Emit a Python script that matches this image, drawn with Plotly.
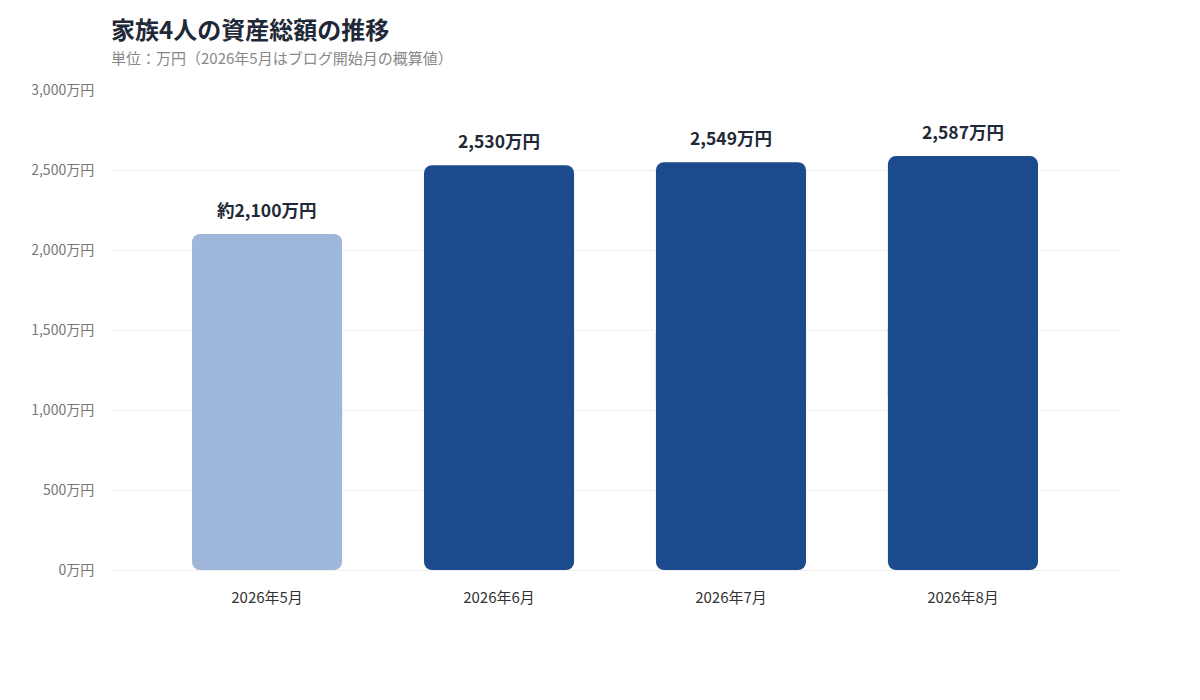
import plotly.graph_objects as go

categories = ["2026年5月", "2026年6月", "2026年7月", "2026年8月"]
values = [2100, 2530, 2549, 2587]
labels = ["約2,100万円", "2,530万円", "2,549万円", "2,587万円"]
colors = ["#a0b7dc", "#1b4b8c", "#1b4b8c", "#1b4b8c"]
tick_vals = [0, 500, 1000, 1500, 2000, 2500, 3000]
tick_text = ["0万円", "500万円", "1,000万円", "1,500万円", "2,000万円", "2,500万円", "3,000万円"]

FONT = "Noto Sans CJK JP"
fig = go.Figure()

# upper part (rounded top)
fig.add_trace(go.Bar(
    x=categories, y=[v * 0.6 for v in values], base=[v * 0.4 for v in values],
    marker=dict(color=colors, line=dict(width=0), cornerradius=8),
    width=0.647, hoverinfo="skip", showlegend=False,
))
# lower part (rounded bottom)
fig.add_trace(go.Bar(
    x=categories, y=[-v * 0.6 for v in values], base=[v * 0.6 for v in values],
    marker=dict(color=colors, line=dict(width=0), cornerradius=8),
    width=0.647, hoverinfo="skip", showlegend=False,
))

for c, v, t in zip(categories, values, labels):
    fig.add_annotation(x=c, y=v, text=f"<b>{t}</b>", showarrow=False,
                       yanchor="bottom", yshift=10,
                       font=dict(family=FONT, size=17.5, color="#1f2937"))

fig.update_layout(
    width=1200, height=700,
    barmode="overlay",
    plot_bgcolor="white", paper_bgcolor="white",
    margin=dict(l=102, r=88, t=82, b=138),
    font=dict(family=FONT),
    showlegend=False,
    xaxis=dict(
        type="category", range=[-0.677, 3.677],
        showgrid=False, zeroline=False, showline=False,
        ticks="outside", ticklen=14, tickcolor="rgba(0,0,0,0)",
        tickfont=dict(family=FONT, size=15, color="#333333"),
    ),
    yaxis=dict(
        range=[0, 3000], tickvals=tick_vals, ticktext=tick_text,
        showgrid=True, gridcolor="#f0f0f0", gridwidth=1,
        zeroline=True, zerolinecolor="#f0f0f0", zerolinewidth=1,
        showline=False,
        ticks="outside", ticklen=12, tickcolor="rgba(0,0,0,0)",
        tickfont=dict(family=FONT, size=14, color="#777777"),
    ),
)

fig.add_annotation(xref="paper", yref="paper", x=0, y=1, xanchor="left", yanchor="bottom",
                   yshift=42, xshift=-1, showarrow=False,
                   text="<b>家族4人の資産総額の推移</b>",
                   font=dict(family=FONT, size=24, color="#1f2937"))
fig.add_annotation(xref="paper", yref="paper", x=0, y=1, xanchor="left", yanchor="bottom",
                   yshift=20, xshift=-1, showarrow=False,
                   text="単位：万円（2026年5月はブログ開始月の概算値）",
                   font=dict(family=FONT, size=15, color="#888888"))

fig.write_html("out.html")
